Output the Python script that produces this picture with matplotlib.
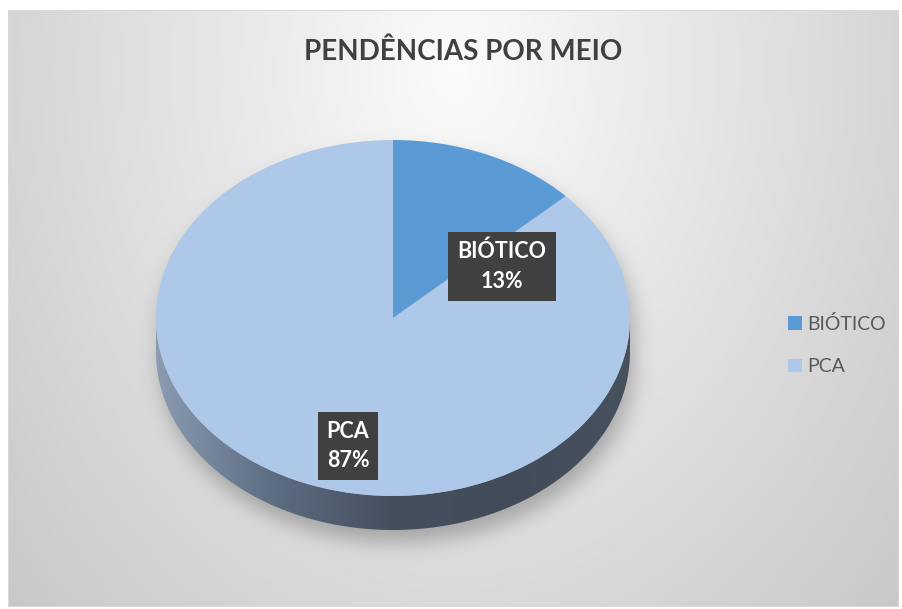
import matplotlib
matplotlib.use("Agg")
import matplotlib.pyplot as plt
import numpy as np
from matplotlib.colors import LinearSegmentedColormap
from matplotlib.patches import Polygon, Patch

plt.rcParams["font.family"] = ["Lato", "DejaVu Sans"]

TITLE = "PENDÊNCIAS POR MEIO"
labels = ["BIÓTICO", "PCA"]
values = [13, 87]
colors = ["#5b9bd5", "#adc8e8"]
# where Excel parked the data labels (pie axes units)
label_pos = [(0.46, 0.29), (-0.19, -0.72)]

W, H = 903, 609
CX, CY, RX, RY, DEPTH = 393, 318, 237, 178, 34


def blur(a, sigma):
    k = np.arange(-3 * sigma, 3 * sigma + 1)
    k = np.exp(-0.5 * (k / sigma) ** 2)
    k /= k.sum()
    a = np.apply_along_axis(lambda r: np.convolve(r, k, mode="same"), 0, a)
    a = np.apply_along_axis(lambda r: np.convolve(r, k, mode="same"), 1, a)
    return a


def background():
    yy, xx = np.mgrid[0:H, 0:W].astype(float)
    r = np.sqrt(((xx - 455) / 450) ** 2 + ((yy - 70) / 600) ** 2)
    v = 0.985 - 0.15 * np.clip(r, 0, 1.4)

    # soft shadow under the pie
    mask = np.zeros((H, W))
    for s in range(0, DEPTH + 1, 2):
        e = ((xx - CX - 4) / RX) ** 2 + ((yy - CY - s - 12) / RY) ** 2 <= 1
        mask = np.maximum(mask, e)
    v = v - 0.22 * blur(mask, 10)

    img = np.dstack([v, v, v])
    inside = (xx >= 8) & (xx <= 898) & (yy >= 10) & (yy <= 606)
    img[~inside] = 1.0
    edge = inside & ((xx < 9) | (xx > 897) | (yy < 11) | (yy > 605))
    img[edge] = 0.85
    return img


def main():
    fig = plt.figure(figsize=(W / 100, H / 100), dpi=100)

    bg = fig.add_axes([0, 0, 1, 1])
    bg.imshow(background(), extent=(0, W, H, 0), interpolation="bilinear")
    bg.set_xlim(0, W)
    bg.set_ylim(H, 0)
    bg.axis("off")

    d = DEPTH / RY
    ax = fig.add_axes([(CX - RX) / W, 1 - (CY + RY + DEPTH) / H,
                       2 * RX / W, (2 * RY + DEPTH) / H])
    wedges, _ = ax.pie(values, colors=colors, startangle=90, counterclock=False,
                       radius=1, wedgeprops=dict(linewidth=0))
    for w in wedges:
        w.set_zorder(3)
    ax.set_aspect("auto")
    ax.patch.set_visible(False)

    # side of the 3D disc
    t = np.linspace(np.pi, 2 * np.pi, 200)
    top = np.column_stack([np.cos(t), np.sin(t)])
    bot = np.column_stack([np.cos(t), np.sin(t) - d])[::-1]
    side = Polygon(np.vstack([top, bot]), closed=True, facecolor="none",
                   edgecolor="none", transform=ax.transData)
    ax.add_patch(side)
    cmap = LinearSegmentedColormap.from_list(
        "side", ["#8a9bb2", "#5c6c81", "#454f5e", "#414b59", "#48525f"])
    grad = ax.imshow(np.linspace(0, 1, 256)[None, :], cmap=cmap, aspect="auto",
                     extent=(-1, 1, -1 - d, 0.2), zorder=2)
    grad.set_clip_path(side)
    ax.set_xlim(-1, 1)
    ax.set_ylim(-1 - d, 1)

    total = sum(values)
    for lab, v, (px, py) in zip(labels, values, label_pos):
        ax.text(px, py, f"{lab}\n{v / total * 100:.0f}%", ha="center", va="center",
                color="white", fontsize=15.5, fontweight="bold", linespacing=1.5,
                zorder=5,
                bbox=dict(boxstyle="square,pad=0.42", facecolor="#404040",
                          edgecolor="none"))

    fig.text(463 / W, 1 - 52 / H, TITLE, ha="center", va="center",
             fontsize=20, fontweight="bold", color="#404040")

    handles = [Patch(facecolor=c, edgecolor="none") for c in colors]
    fig.legend(handles, labels, loc="center left",
               bbox_to_anchor=(771 / W, 1 - 345 / H), frameon=False,
               fontsize=14, labelcolor="#595959", handlelength=0.68,
               handleheight=0.68, handletextpad=0.3, labelspacing=1.3)

    fig.savefig("out.png", dpi=100)
    plt.close(fig)


if __name__ == "__main__":
    main()
